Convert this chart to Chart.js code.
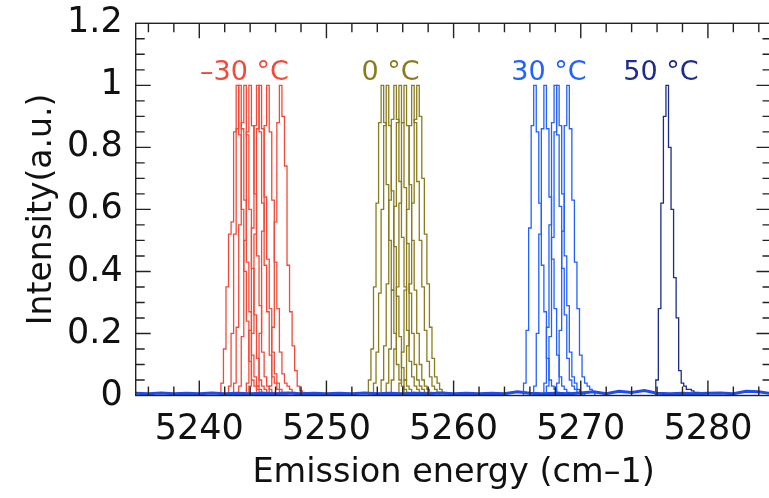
<!DOCTYPE html>
<html lang="en">
<head>
<meta charset="UTF-8">
<title>Emission spectra</title>
<script src="https://cdn.jsdelivr.net/npm/chart.js"></script>
<style>
    html, body { margin: 0; padding: 0; overflow: hidden; background: #fff; }
    #wrap { width: 775px; height: 498px; }
</style>
</head>
<body>
<div id="wrap"><canvas id="spectra" width="775" height="498"></canvas></div>
<script>
// energy grid of each temperature group (cm-1, 0.2 steps)
const energyM30 = [5241.4, 5241.6, 5241.8, 5242.0, 5242.2, 5242.4, 5242.6, 5242.8, 5243.0, 5243.2,
    5243.4, 5243.6, 5243.8, 5244.0, 5244.2, 5244.4, 5244.6, 5244.8, 5245.0, 5245.2,
    5245.4, 5245.6, 5245.8, 5246.0, 5246.2, 5246.4, 5246.6, 5246.8, 5247.0, 5247.2,
    5247.4, 5247.6, 5247.8, 5248.0, 5248.2, 5248.4, 5248.6, 5248.8, 5249.0, 5249.2,
    5249.4, 5249.6, 5249.8, 5250.0];
const energy0 = [5253.0, 5253.2, 5253.4, 5253.6, 5253.8, 5254.0, 5254.2, 5254.4, 5254.6, 5254.8,
    5255.0, 5255.2, 5255.4, 5255.6, 5255.8, 5256.0, 5256.2, 5256.4, 5256.6, 5256.8,
    5257.0, 5257.2, 5257.4, 5257.6, 5257.8, 5258.0, 5258.2, 5258.4, 5258.6, 5258.8,
    5259.0, 5259.2, 5259.4, 5259.6, 5259.8, 5260.0];
const energy30 = [5265.0, 5265.2, 5265.4, 5265.6, 5265.8, 5266.0, 5266.2, 5266.4, 5266.6, 5266.8,
    5267.0, 5267.2, 5267.4, 5267.6, 5267.8, 5268.0, 5268.2, 5268.4, 5268.6, 5268.8,
    5269.0, 5269.2, 5269.4, 5269.6, 5269.8, 5270.0, 5270.2, 5270.4, 5270.6, 5270.8,
    5271.0, 5271.2, 5271.4, 5271.6, 5271.8, 5272.0];
const energy50 = [5275.0, 5275.2, 5275.4, 5275.6, 5275.8, 5276.0, 5276.2, 5276.4, 5276.6, 5276.8,
    5277.0, 5277.2, 5277.4, 5277.6, 5277.8, 5278.0, 5278.2, 5278.4, 5278.6, 5278.8,
    5279.0, 5279.2, 5279.4, 5279.6, 5279.8, 5280.0];

// index in the grid where each spectrum starts, then its intensities
const startM30 = [1, 4, 6, 8, 11, 12, 15, 20];
const spectraM30 = [
    [0, 0.04, 0.15, 0.35, 0.52, 0.56, 0.85, 1, 0.84, 0.6, 0.4, 0.24, 0.11, 0.05, 0.03, 0.02, 0.01, 0.005, 0],
    [0, 0.03, 0.2, 0.52, 0.86, 1, 0.86, 0.63, 0.43, 0.27, 0.13, 0.06, 0.03, 0.02, 0.01, 0.005, 0],
    [0, 0.04, 0.22, 0.55, 0.88, 1, 0.84, 0.6, 0.41, 0.26, 0.12, 0.05, 0.03, 0.02, 0.01, 0.005, 0],
    [0, 0.03, 0.19, 0.5, 0.85, 1, 0.87, 0.65, 0.45, 0.29, 0.14, 0.06, 0.03, 0.02, 0.01, 0.005, 0],
    [0, 0.04, 0.21, 0.54, 0.87, 1, 0.85, 0.62, 0.42, 0.27, 0.13, 0.06, 0.04, 0.02, 0.01, 0.005, 0],
    [0, 0.03, 0.2, 0.52, 0.86, 1, 0.86, 0.64, 0.44, 0.28, 0.14, 0.07, 0.04, 0.02, 0.01, 0.005, 0],
    [0, 0.03, 0.2, 0.53, 0.87, 1, 0.85, 0.63, 0.43, 0.28, 0.14, 0.07, 0.04, 0.03, 0.02, 0.01, 0],
    [0, 0.03, 0.22, 0.56, 0.88, 1, 0.9, 0.74, 0.42, 0.27, 0.16, 0.08, 0.03, 0.015, 0.01, 0.008, 0.005, 0.005, 0]
];
const start0 = [1, 3, 6, 8, 10, 13, 15];
const spectra0 = [
    [0, 0.05, 0.15, 0.35, 0.62, 0.88, 1, 0.88, 0.68, 0.5, 0.34, 0.2, 0.1, 0.05, 0.03, 0.02, 0.01, 0],
    [0, 0.04, 0.14, 0.33, 0.6, 0.87, 1, 0.87, 0.66, 0.48, 0.32, 0.19, 0.09, 0.05, 0.03, 0.02, 0.01, 0],
    [0, 0.05, 0.16, 0.36, 0.63, 0.89, 1, 0.89, 0.69, 0.51, 0.35, 0.21, 0.11, 0.06, 0.03, 0.02, 0.01, 0],
    [0, 0.04, 0.15, 0.34, 0.61, 0.88, 1, 0.88, 0.67, 0.49, 0.33, 0.2, 0.1, 0.05, 0.03, 0.02, 0.01, 0],
    [0, 0.05, 0.15, 0.35, 0.62, 0.88, 1, 0.87, 0.68, 0.5, 0.34, 0.2, 0.1, 0.05, 0.03, 0.02, 0.01, 0],
    [0, 0.04, 0.14, 0.34, 0.6, 0.87, 1, 0.88, 0.69, 0.5, 0.35, 0.21, 0.11, 0.06, 0.03, 0.02, 0.01, 0],
    [0, 0.05, 0.16, 0.36, 0.62, 0.89, 1, 0.9, 0.7, 0.52, 0.36, 0.22, 0.12, 0.06, 0.04, 0.02, 0.01, 0]
];
const start30 = [2, 6, 10, 11, 15];
const spectra30 = [
    [0, 0.04, 0.21, 0.54, 0.87, 1, 0.85, 0.62, 0.42, 0.27, 0.12, 0.05, 0.03, 0.02, 0.01, 0.005, 0],
    [0, 0.03, 0.2, 0.52, 0.86, 1, 0.86, 0.64, 0.44, 0.28, 0.13, 0.06, 0.03, 0.02, 0.01, 0.005, 0],
    [0, 0.04, 0.22, 0.55, 0.88, 1, 0.84, 0.61, 0.41, 0.26, 0.12, 0.05, 0.03, 0.02, 0.01, 0.005, 0],
    [0, 0.03, 0.19, 0.51, 0.85, 1, 0.87, 0.65, 0.45, 0.29, 0.14, 0.06, 0.04, 0.02, 0.01, 0.005, 0],
    [0, 0.04, 0.21, 0.53, 0.87, 1, 0.86, 0.63, 0.43, 0.28, 0.13, 0.06, 0.04, 0.03, 0.02, 0.01, 0]
];
const start50 = [4];
const spectra50 = [
    [0, 0.05, 0.28, 0.62, 0.9, 1, 0.8, 0.6, 0.38, 0.25, 0.08, 0.04, 0.03, 0.02, 0.02, 0.015, 0.01, 0.01, 0.005, 0.005, 0]
];

// background level seen along the whole axis
const baseEnergy = [5235, 5236, 5237, 5238, 5239, 5240, 5241, 5242, 5243, 5244, 5245, 5246, 5247,
    5248, 5249, 5250, 5251, 5252, 5253, 5254, 5255, 5256, 5257, 5258, 5259, 5260, 5261, 5262,
    5263, 5264, 5265, 5266, 5267, 5268, 5269, 5270, 5271, 5272, 5273, 5274, 5275, 5276, 5277,
    5278, 5279, 5280, 5281, 5282, 5283, 5284, 5285];
const baseLevel = [0.007, 0.006, 0.008, 0.006, 0.007, 0.006, 0.008, 0.006, 0.007, 0.006, 0.007, 0.006, 0.008,
    0.006, 0.007, 0.006, 0.007, 0.006, 0.008, 0.006, 0.007, 0.006, 0.007, 0.006, 0.008, 0.006, 0.007, 0.006,
    0.007, 0.006, 0.012, 0.007, 0.006, 0.007, 0.006, 0.008, 0.012, 0.006, 0.014, 0.01, 0.016, 0.007, 0.006,
    0.007, 0.006, 0.007, 0.008, 0.006, 0.014, 0.012, 0.006];

const xTicks = [5240, 5250, 5260, 5270, 5280];
const yTicks = [0, 0.2, 0.4, 0.6, 0.8, 1, 1.2];
const yTickLabels = ['0', '0.2', '0.4', '0.6', '0.8', '1', '1.2'];

const tempLabels = ['\u201330 \u00b0C', '0 \u00b0C', '30 \u00b0C', '50 \u00b0C'];
const tempLabelEnergy = [5243.55, 5255.05, 5267.5, 5276.3];
const tempLabelLevel = 1.04;
const tempColors = ['#f24a38', '#8a7b1c', '#2161ff', '#1b2c8c'];

function spectrum(grid, start, values) {
    return values.map((v, i) => ({ x: grid[start + i], y: v }));
}

const datasets = [];
const groups = [
    [energyM30, startM30, spectraM30, tempColors[0]],
    [energy0, start0, spectra0, tempColors[1]],
    [energy30, start30, spectra30, tempColors[2]],
    [energy50, start50, spectra50, tempColors[3]]
];
groups.forEach(([grid, starts, spectra, color]) => {
    spectra.forEach((vals, k) => {
        datasets.push({
            data: spectrum(grid, starts[k], vals),
            borderColor: color,
            borderWidth: 1.3,
            pointRadius: 0,
            stepped: 'middle',
            order: 1
        });
    });
});
datasets.push({
    data: baseEnergy.map((e, i) => ({ x: e, y: baseLevel[i] })),
    borderColor: '#1d4cf0',
    borderWidth: 3,
    pointRadius: 0,
    order: 0
});

// frame with inward ticks on all sides, plus the temperature labels
const frameTicks = {
    id: 'frameTicks',
    afterDatasetsDraw(chart) {
        const { ctx, chartArea: a, scales: { x, y } } = chart;
        ctx.save();
        ctx.strokeStyle = '#222';
        ctx.lineWidth = 1.4;
        ctx.strokeRect(a.left, a.top, a.right - a.left, a.bottom - a.top);
        ctx.beginPath();
        for (let v = 5236; v <= 5284; v += 2) {
            const px = x.getPixelForValue(v);
            const len = xTicks.includes(v) ? 15 : 9;
            ctx.moveTo(px, a.top); ctx.lineTo(px, a.top + len);
            ctx.moveTo(px, a.bottom); ctx.lineTo(px, a.bottom - len);
        }
        for (let k = 1; k < 24; k++) {
            const py = y.getPixelForValue(k * 0.05);
            const len = k % 4 === 0 ? 15 : 9;
            ctx.moveTo(a.left, py); ctx.lineTo(a.left + len, py);
            ctx.moveTo(a.right, py); ctx.lineTo(a.right - len, py);
        }
        ctx.stroke();

        ctx.font = '27px "DejaVu Sans"';
        ctx.textAlign = 'center';
        ctx.textBaseline = 'middle';
        tempLabels.forEach((t, i) => {
            ctx.fillStyle = tempColors[i];
            ctx.fillText(t, x.getPixelForValue(tempLabelEnergy[i]), y.getPixelForValue(tempLabelLevel));
        });
        ctx.restore();
    }
};

new Chart(document.getElementById('spectra'), {
    type: 'line',
    data: { datasets },
    options: {
        responsive: false,
        animation: false,
        layout: { padding: { left: 0, right: 3.5, top: 23.3, bottom: 0 } },
        plugins: { legend: { display: false }, tooltip: { enabled: false } },
        scales: {
            x: {
                type: 'linear',
                min: 5235,
                max: 5285,
                grid: { display: false, drawTicks: false },
                border: { display: false },
                afterBuildTicks: s => { s.ticks = xTicks.map(v => ({ value: v })); },
                afterFit: s => { s.height = 102.5; s.paddingLeft = 0; s.paddingRight = 0; },
                ticks: {
                    autoSkip: false,
                    maxRotation: 0,
                    padding: 13,
                    color: '#111',
                    font: { family: 'DejaVu Sans', size: 35 },
                    callback: v => String(v)
                },
                title: {
                    display: true,
                    text: 'Emission energy (cm\u20131)',
                    color: '#111',
                    font: { family: 'DejaVu Sans', size: 33.5 },
                    padding: { top: 0, bottom: 5 }
                }
            },
            y: {
                min: 0,
                max: 1.2,
                grid: { display: false, drawTicks: false },
                border: { display: false },
                afterBuildTicks: s => { s.ticks = yTicks.map(v => ({ value: v })); },
                afterFit: s => { s.width = 135.7; s.paddingTop = 0; s.paddingBottom = 0; },
                ticks: {
                    padding: 13,
                    color: '#111',
                    font: { family: 'DejaVu Sans', size: 35 },
                    callback: (v, i) => yTickLabels[i]
                },
                title: {
                    display: true,
                    text: 'Intensity(a.u.)',
                    color: '#111',
                    font: { family: 'DejaVu Sans', size: 33 },
                    padding: { top: 23, bottom: 0 }
                }
            }
        }
    },
    plugins: [frameTicks]
});
</script>
</body>
</html>
